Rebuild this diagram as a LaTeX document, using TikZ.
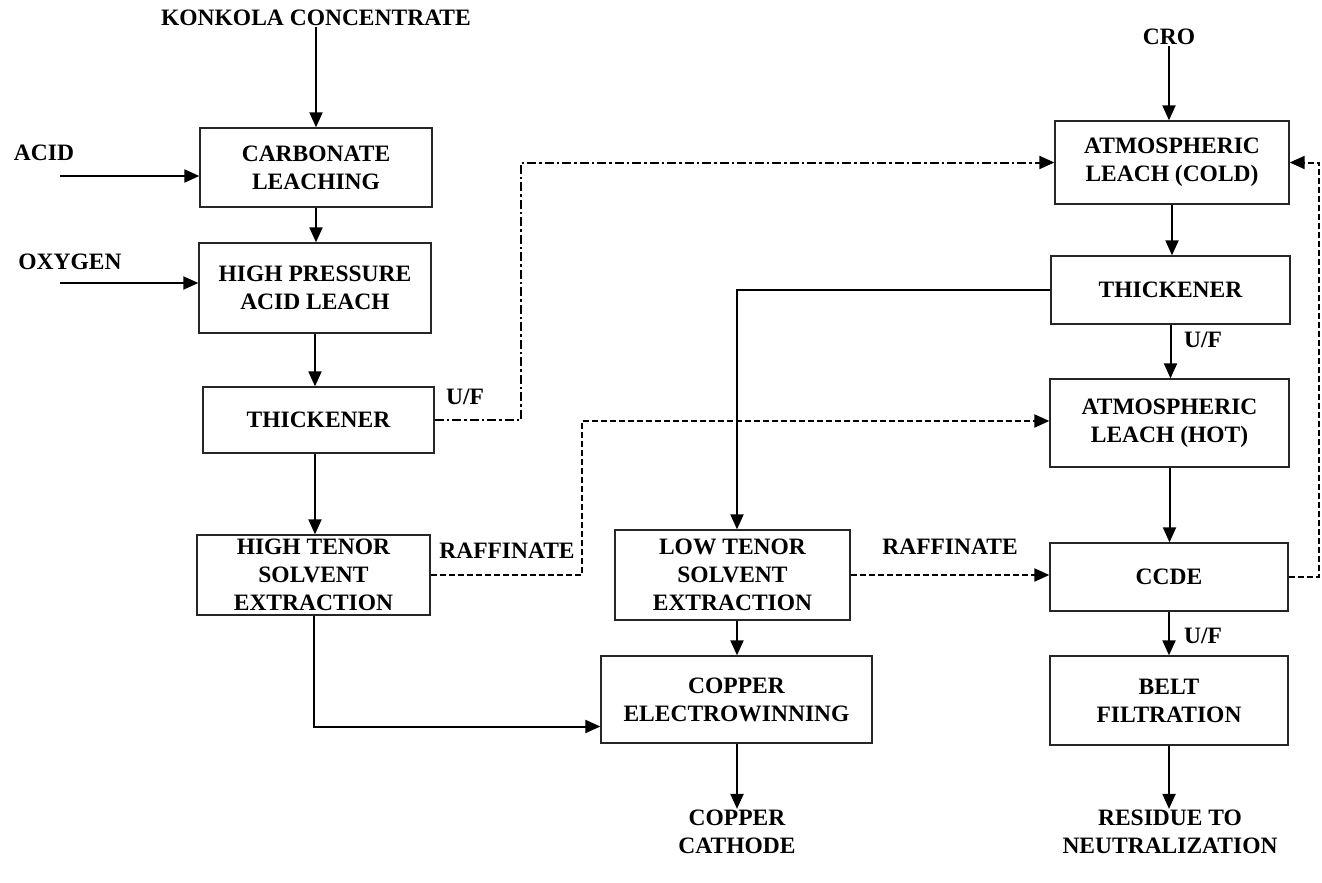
\documentclass[tikz,border=0pt]{standalone}
\usepackage{fontspec}
\setmainfont{Liberation Serif}
\usetikzlibrary{arrows.meta,calc}
\newcommand\lblfont{\fontsize{23.5}{28}\selectfont\bfseries}
\begin{document}
\begin{tikzpicture}[x=1pt,y=-1pt,
  box/.style={draw=black!85, line width=1.3pt, align=center, inner sep=0pt, font=\lblfont},
  txt/.style={align=center, inner sep=1pt, font=\lblfont},
  arr/.style={line width=2pt, -{Triangle[length=15pt,width=13pt]}},
  ddot/.style={arr, dash pattern=on 9pt off 3pt on 2.5pt off 3pt},
  dsh/.style={arr, dash pattern=on 6pt off 3pt}]
\useasboundingbox (0,0) rectangle (1322,883);
% boxes
\node[box, minimum width=232pt, minimum height=79pt] (carb) at (316,167.5) {CARBONATE\\LEACHING};
\node[box, minimum width=232pt, minimum height=90pt] (hpal) at (315,288) {HIGH PRESSURE\\ACID LEACH};
\node[box, minimum width=231pt, minimum height=66pt] (thkL) at (318.5,420) {THICKENER};
\node[box, minimum width=233pt, minimum height=80pt] (htse) at (313.5,575) {HIGH TENOR\\SOLVENT\\EXTRACTION};
\node[box, minimum width=235pt, minimum height=90pt] (ltse) at (732.5,575) {LOW TENOR\\SOLVENT\\EXTRACTION};
\node[box, minimum width=271pt, minimum height=87pt] (ce) at (736.5,699.5) {COPPER\\ELECTROWINNING};
\node[box, minimum width=234pt, minimum height=83pt] (cold) at (1172,162.5) {ATMOSPHERIC\\LEACH (COLD)};
\node[box, minimum width=239pt, minimum height=68pt] (thkR) at (1170.5,290) {THICKENER};
\node[box, minimum width=239pt, minimum height=88pt] (hot) at (1169.5,423) {ATMOSPHERIC\\LEACH (HOT)};
\node[box, minimum width=238pt, minimum height=68pt] (ccde) at (1169,577) {CCDE};
\node[box, minimum width=238pt, minimum height=89pt] (belt) at (1169,700.5) {BELT\\FILTRATION};
% free texts
\node[txt] (konkola) at (316,18) {KONKOLA CONCENTRATE};
\node[txt] (acid) at (44,153) {ACID};
\node[txt] (oxygen) at (70,262) {OXYGEN};
\node[txt] (cro) at (1169,37) {CRO};
\node[txt] (cathode) at (737,832) {COPPER\\CATHODE};
\node[txt] (residue) at (1170,832) {RESIDUE TO\\NEUTRALIZATION};
\node[txt] (uf1) at (465,397) {U/F};
\node[txt] (raf1) at (507,551) {RAFFINATE};
\node[txt] (raf2) at (950,547) {RAFFINATE};
\node[txt] (uf2) at (1203,340) {U/F};
\node[txt] (uf3) at (1203,636) {U/F};
% coordinates
\coordinate (acidS) at (60,176);
\coordinate (oxyS) at (60,283);
\coordinate (u1) at (521,420);
\coordinate (u2) at (521,162.5);
\coordinate (r1) at (582,575);
\coordinate (r2) at (582,421);
\coordinate (lt) at (737,290);
\coordinate (rc1) at (1319,577);
\coordinate (rc2) at (1319,162.5);
\coordinate (ceIn) at ($(ce.west)+(0,27)$);
% solid arrows
\draw[arr] (konkola.south) -- (konkola.south |- carb.north);
\draw[arr] (acidS) -- (acidS -| carb.west);
\draw[arr] (oxyS) -- (oxyS -| hpal.west);
\draw[arr] (carb.south) -- (carb.south |- hpal.north);
\draw[arr] (hpal.south) -- (hpal.south |- thkL.north);
\draw[arr] (hpal.south |- thkL.south) -- (hpal.south |- htse.north);
\draw[arr] (htse.south) |- (ceIn);
\draw[arr] (thkR.west) -- (lt) -- (lt |- ltse.north);
\draw[arr] (lt |- ltse.south) -- (lt |- ce.north);
\draw[arr] (lt |- ce.south) -- (lt |- cathode.north);
\draw[arr] (cro.south) -- (cro.south |- cold.north);
\draw[arr] (cold.south) -- (cold.south |- thkR.north);
\draw[arr] (thkR.south) -- (thkR.south |- hot.north);
\draw[arr] (hot.south) -- (hot.south |- ccde.north);
\draw[arr] (ccde.south) -- (ccde.south |- belt.north);
\draw[arr] (belt.south) -- (belt.south |- residue.north);
% dashed flows
\draw[ddot] (thkL.east) -- (u1) -- (u2) -- (cold.west);
\draw[dsh] (htse.east) -- (r1) -- (r2) -- (r2 -| hot.west);
\draw[dsh] (ltse.east) -- (ltse.east -| ccde.west);
\draw[dsh] (ccde.east) -- (rc1) -- (rc2) -- (cold.east);
\end{tikzpicture}
\end{document}
